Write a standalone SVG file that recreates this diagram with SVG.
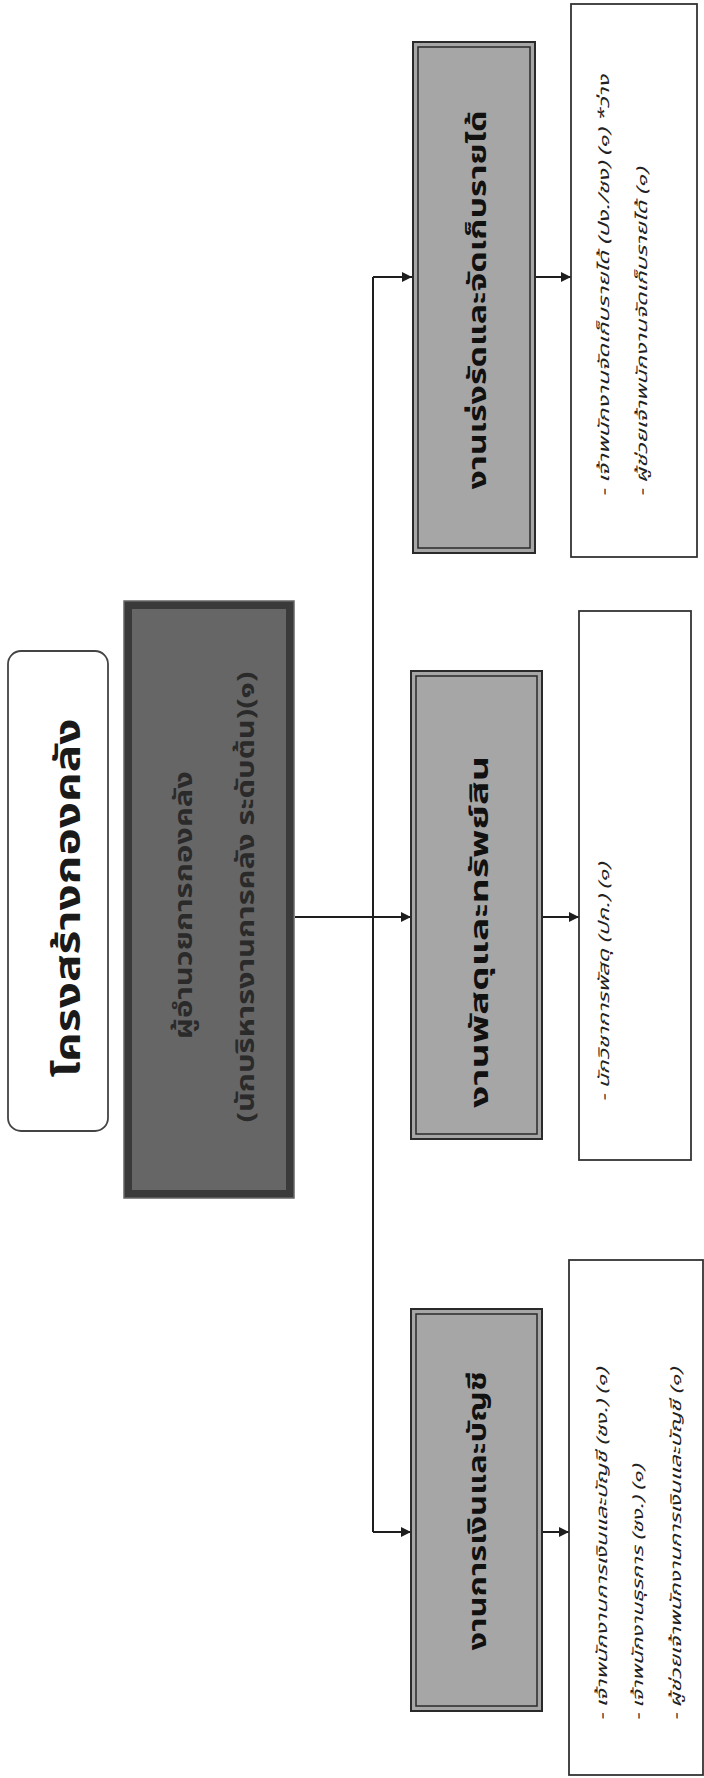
<svg xmlns="http://www.w3.org/2000/svg" width="704" height="1778" viewBox="0 0 704 1778">
<defs>
<style>
.th{font-family:"Noto Sans Thai","Noto Sans","DejaVu Sans",sans-serif;}
.title{font-size:36px;font-weight:bold;fill:#1a1a1a;}
.mainT{font-size:24px;font-weight:bold;fill:#2a2a2a;}
.subT{font-size:25px;font-weight:bold;fill:#111;}
.list{font-size:15px;font-style:italic;fill:#222;}
.conn{stroke:#1e1e1e;stroke-width:2;fill:none;}
.sub{fill:#a6a6a6;stroke:#2a2a2a;stroke-width:2;}
.subIn{fill:none;stroke:#2a2a2a;stroke-width:1.5;}
.lst{fill:#fff;stroke:#333;stroke-width:1.8;}
</style>
<marker id="ah" viewBox="0 0 10 10" refX="10" refY="5" markerWidth="5" markerHeight="5" orient="auto" markerUnits="strokeWidth">
<path d="M0,0 L10,5 L0,10 z" fill="#1e1e1e"/>
</marker>
</defs>
<rect width="704" height="1778" fill="#fff"/>

<g id="title">
<rect x="8" y="651" width="100" height="480" rx="13" fill="#fff" stroke="#444" stroke-width="1.8"/>
<text class="th title" x="80" y="898" text-anchor="middle" transform="rotate(-90 80 898)" textLength="359" lengthAdjust="spacingAndGlyphs">โครงสร้างกองคลัง</text>
</g>

<g id="main">
<rect x="124" y="601" width="170" height="597" fill="#3a3a3a" stroke="#666" stroke-width="1.5"/>
<rect x="132" y="609" width="154" height="581" fill="#666"/>
<text class="th mainT" x="192" y="905" text-anchor="middle" transform="rotate(-90 192 905)" textLength="268" lengthAdjust="spacingAndGlyphs">ผู้อำนวยการกองคลัง</text>
<text class="th mainT" x="254" y="897" text-anchor="middle" transform="rotate(-90 254 897)" textLength="451" lengthAdjust="spacingAndGlyphs">(นักบริหารงานการคลัง ระดับต้น)(๑)</text>
</g>

<g id="connectors">
<path class="conn" d="M373 277 V1532"/>
<path class="conn" d="M373 277 H412" marker-end="url(#ah)"/>
<path class="conn" d="M295 917 H411" marker-end="url(#ah)"/>
<path class="conn" d="M373 1532 H411" marker-end="url(#ah)"/>
<path class="conn" d="M535 277 H571" marker-end="url(#ah)"/>
<path class="conn" d="M542 917 H579" marker-end="url(#ah)"/>
<path class="conn" d="M542 1532 H569" marker-end="url(#ah)"/>
</g>

<g id="revenue">
<rect class="sub" x="413" y="42" width="122" height="511"/>
<rect class="subIn" x="418" y="47" width="112" height="501"/>
<text class="th subT" x="486" y="300" text-anchor="middle" transform="rotate(-90 486 300)" textLength="379" lengthAdjust="spacingAndGlyphs">งานเร่งรัดและจัดเก็บรายได้</text>
</g>
<g id="revenue-staff">
<rect class="lst" x="571" y="4" width="126" height="553"/>
<text class="th list" x="609" y="497" transform="rotate(-90 609 497)" textLength="422" lengthAdjust="spacingAndGlyphs">-  เจ้าพนักงานจัดเก็บรายได้  (ปง./ชง)  (๑) *ว่าง</text>
<text class="th list" x="647" y="497" transform="rotate(-90 647 497)" textLength="329" lengthAdjust="spacingAndGlyphs">-  ผู้ช่วยเจ้าพนักงานจัดเก็บรายได้  (๑)</text>
</g>

<g id="supplies">
<rect class="sub" x="411" y="671" width="131" height="468"/>
<rect class="subIn" x="416" y="676" width="121" height="458"/>
<text class="th subT" x="488" y="932" text-anchor="middle" transform="rotate(-90 488 932)" textLength="352" lengthAdjust="spacingAndGlyphs">งานพัสดุและทรัพย์สิน</text>
</g>
<g id="supplies-staff">
<rect class="lst" x="579" y="611" width="112" height="549"/>
<text class="th list" x="609" y="1102" transform="rotate(-90 609 1102)" textLength="239" lengthAdjust="spacingAndGlyphs">-  นักวิชาการพัสดุ  (ปก.)  (๑)</text>
</g>

<g id="finance">
<rect class="sub" x="411" y="1309" width="131" height="402"/>
<rect class="subIn" x="416" y="1314" width="121" height="392"/>
<text class="th subT" x="486" y="1511" text-anchor="middle" transform="rotate(-90 486 1511)" textLength="279" lengthAdjust="spacingAndGlyphs">งานการเงินและบัญชี</text>
</g>
<g id="finance-staff">
<rect class="lst" x="569" y="1260" width="134" height="515"/>
<text class="th list" x="607" y="1721" transform="rotate(-90 607 1721)" textLength="353" lengthAdjust="spacingAndGlyphs">-  เจ้าพนักงานการเงินและบัญชี (ชง.) (๑)</text>
<text class="th list" x="643" y="1721" transform="rotate(-90 643 1721)" textLength="256" lengthAdjust="spacingAndGlyphs">-  เจ้าพนักงานธุรการ (ชง.) (๑)</text>
<text class="th list" x="681" y="1721" transform="rotate(-90 681 1721)" textLength="353" lengthAdjust="spacingAndGlyphs">-  ผู้ช่วยเจ้าพนักงานการเงินและบัญชี (๑)</text>
</g>
</svg>
